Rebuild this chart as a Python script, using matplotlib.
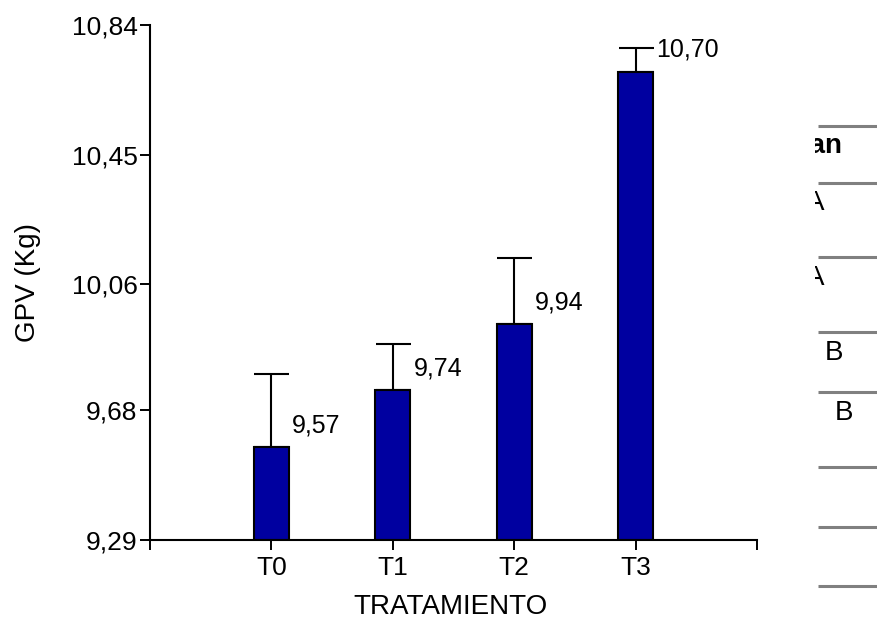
import matplotlib
matplotlib.use("Agg")
import matplotlib.pyplot as plt
from matplotlib.patches import Rectangle
import numpy as np

# ---- data ----
categories = ["T0", "T1", "T2", "T3"]
means = [9.57, 9.74, 9.94, 10.70]
errors = [0.22, 0.14, 0.20, 0.07]
value_labels = ["9,57", "9,74", "9,94", "10,70"]
ytick_values = [9.29, 9.68, 10.06, 10.45, 10.84]
ytick_labels = ["9,29", "9,68", "10,06", "10,45", "10,84"]
table_header = "Mean"
table_letters = ["A", "A", "B", "B"]

FONT = "Liberation Sans"
W, H = 878, 627
fig = plt.figure(figsize=(W / 100, H / 100), dpi=100)
fig.patch.set_facecolor("white")

def px(x0, y0, x1, y1):
    return [x0 / W, 1 - y1 / H, (x1 - x0) / W, (y1 - y0) / H]

# ---- table fragment on the right, partly hidden behind the chart ----
tax = fig.add_axes(px(700, 0, 878, 627))
tax.set_zorder(0)
tax.set_xlim(700, 878)
tax.set_ylim(627, 0)
tax.axis("off")
for yl in [125.7, 182.7, 257, 332, 392, 467, 527, 586]:
    tax.plot([818, 878], [yl, yl], color="#808080", lw=2.2, solid_capstyle="butt")
tax.text(842, 146, table_header, ha="right", va="center", fontsize=20,
         fontweight="bold", family=FONT, clip_on=False)
letter_pos = [(824, 203), (824, 278), (843, 353), (853, 413)]
for (lx, ly), t in zip(letter_pos, table_letters):
    tax.text(lx, ly, t, ha="right", va="center", fontsize=20,
             family=FONT, clip_on=False)

# white mask: the chart image covers everything left of x=815 px
mask = Rectangle((0, 0), 815 / W, 1, transform=fig.transFigure,
                 facecolor="white", edgecolor="none", zorder=0.5)
fig.add_artist(mask)

# ---- main chart ----
ax = fig.add_axes(px(150, 25, 757, 540))
ax.set_zorder(1)
ax.patch.set_alpha(0)
x = np.arange(len(categories))
ymin, ymax = ytick_values[0], ytick_values[-1]
heights = [m - ymin for m in means]
ax.bar(x, heights, bottom=ymin, width=0.29, color="#0000A0",
       edgecolor="black", linewidth=1.5, zorder=2)
ax.errorbar(x, means, yerr=[[0] * len(errors), errors], fmt="none",
            ecolor="black", elinewidth=1.5, capsize=12.6, capthick=1.5, zorder=1)
for xi, m, lab in zip(x, means, value_labels):
    ax.annotate(lab, (xi, m), xytext=(15, 15.5), textcoords="offset points",
                ha="left", va="center", fontsize=18, family=FONT)

ax.set_xlim(-1, 4)
ax.set_ylim(ymin, ymax)
ax.set_xticks([-1, 0, 1, 2, 3, 4])
ax.set_xticklabels([""] + categories + [""])
ax.set_yticks(ytick_values)
ax.set_yticklabels(ytick_labels)
for s in ["top", "right"]:
    ax.spines[s].set_visible(False)
for s in ["left", "bottom"]:
    ax.spines[s].set_linewidth(1.5)
ax.tick_params(axis="both", direction="out", length=7.5, width=1.4,
               labelsize=19, colors="black")
ax.tick_params(axis="y", pad=1.5)
ax.tick_params(axis="x", pad=4)
for lab in ax.get_xticklabels() + ax.get_yticklabels():
    lab.set_family(FONT)

ax.set_xlabel("TRATAMIENTO", fontsize=20, family=FONT)
ax.set_ylabel("GPV (Kg)", fontsize=20, family=FONT)
ax.xaxis.set_label_coords(451 / W, 1 - 607 / H, transform=fig.transFigure)
ax.xaxis.label.set_verticalalignment("center")
ax.yaxis.set_label_coords(28 / W, 1 - 283 / H, transform=fig.transFigure)
ax.yaxis.label.set_verticalalignment("center")

fig.savefig("out.png", dpi=100, facecolor="white")
